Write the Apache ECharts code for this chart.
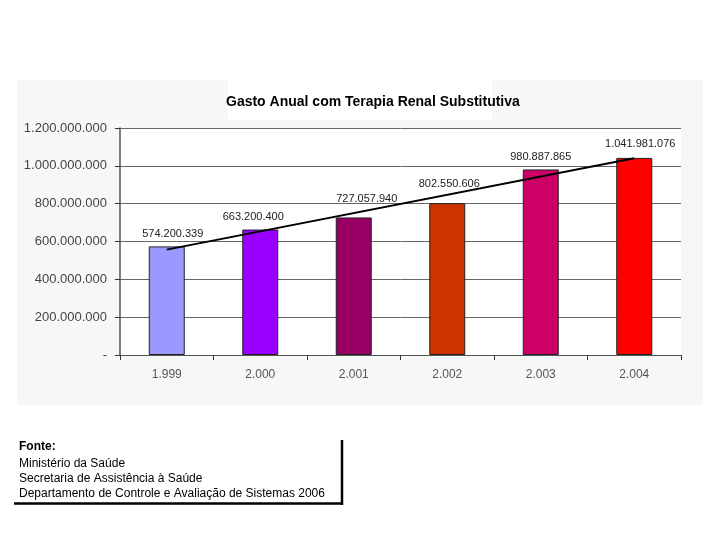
<!DOCTYPE html>
<html>
<head>
<meta charset="utf-8">
<script src="https://cdn.jsdelivr.net/npm/echarts@6/dist/echarts.min.js"></script>
<style>html,body{margin:0;padding:0;background:#fff}#c{width:720px;height:540px}</style>
</head>
<body>
<div id="c"></div>
<script>
const categories = ['1.999', '2.000', '2.001', '2.002', '2.003', '2.004'];
const values = [574200339, 663200400, 727057940, 802550606, 980887865, 1041981076];
const barColors = ['#9999ff', '#9900ff', '#990066', '#cc3300', '#cc0066', '#ff0000'];
const trendValues = [557000000, null, null, null, null, 1040500000];
const yTicks = [0, 200000000, 400000000, 600000000, 800000000, 1000000000, 1200000000];
const titleText = 'Gasto Anual com Terapia Renal Substitutiva';
const sourceLines = ['Ministério da Saúde', 'Secretaria de Assistência à Saúde', 'Departamento de Controle e Avaliação de Sistemas 2006'];

function fmt(v) {
  if (v === 0) return '-';
  return String(v).replace(/\B(?=(\d{3})+(?!\d))/g, '.');
}
const labelOffsets = [[6, -2], [-7, -2], [13, -8], [2, -9], [0, -2], [6, -3]];

const chart = echarts.init(document.getElementById('c'), null, {renderer: 'canvas'});
chart.setOption({
  backgroundColor: '#ffffff',
  animation: false,
  graphic: [
    {type: 'rect', shape: {x: 17, y: 80, width: 686, height: 325}, style: {fill: '#f6f8f7'}, z: -10},
    {type: 'rect', shape: {x: 228, y: 80, width: 264, height: 40}, style: {fill: '#ffffff'}, z: -9},
    {type: 'rect', shape: {x: 120, y: 128, width: 561, height: 227}, style: {fill: '#ffffff'}, z: -8},
    {type: 'text', left: 226, top: 95, style: {text: titleText, font: 'bold 14px "Liberation Sans", Arial, sans-serif', fill: '#000'}},
    {type: 'text', left: 19, top: 441, style: {text: 'Fonte:', font: 'bold 12px "Liberation Sans", Arial, sans-serif', fill: '#000'}},
    {type: 'text', left: 19, top: 456, style: {text: sourceLines.join('\n'), font: '12px "Liberation Sans", Arial, sans-serif', lineHeight: 15, fill: '#000'}},
    {type: 'line', shape: {x1: 342, y1: 440, x2: 342, y2: 505}, style: {stroke: '#000', lineWidth: 2.5}},
    {type: 'line', shape: {x1: 14, y1: 503.5, x2: 343, y2: 503.5}, style: {stroke: '#000', lineWidth: 2.5}}
  ],
  grid: {left: 120, top: 128, width: 561, height: 227, containLabel: false},
  xAxis: {
    type: 'category',
    data: categories,
    boundaryGap: true,
    axisLine: {lineStyle: {color: '#555', width: 1}},
    axisTick: {show: true, length: 5, lineStyle: {color: '#333'}},
    axisLabel: {color: '#555', fontSize: 12, fontFamily: 'Liberation Sans, Arial, sans-serif', margin: 14}
  },
  yAxis: {
    type: 'value',
    min: 0, max: 1200000000, interval: 200000000,
    axisLine: {show: true, lineStyle: {color: '#555', width: 1.5}},
    axisTick: {show: true, length: 5, inside: false, lineStyle: {color: '#333'}},
    splitLine: {show: true, lineStyle: {color: '#666', width: 1}},
    axisLabel: {
      color: '#444', fontSize: 13, fontFamily: 'Liberation Sans, Arial, sans-serif', margin: 13,
      formatter: v => yTicks.includes(v) ? fmt(v) : ''
    }
  },
  series: [
    {
      type: 'bar',
      barWidth: 36,
      data: values.map((v, i) => ({
        value: v,
        itemStyle: {color: barColors[i], borderColor: '#222', borderWidth: 1},
        label: {offset: labelOffsets[i]}
      })),
      label: {
        show: true, position: 'top', distance: 5,
        formatter: p => fmt(p.value),
        color: '#222', fontSize: 11, fontFamily: 'Liberation Sans, Arial, sans-serif'
      },
      z: 2
    },
    {
      type: 'line',
      data: trendValues,
      connectNulls: true,
      symbol: 'none',
      lineStyle: {color: '#000', width: 2},
      z: 5
    }
  ]
});
</script>
</body>
</html>
